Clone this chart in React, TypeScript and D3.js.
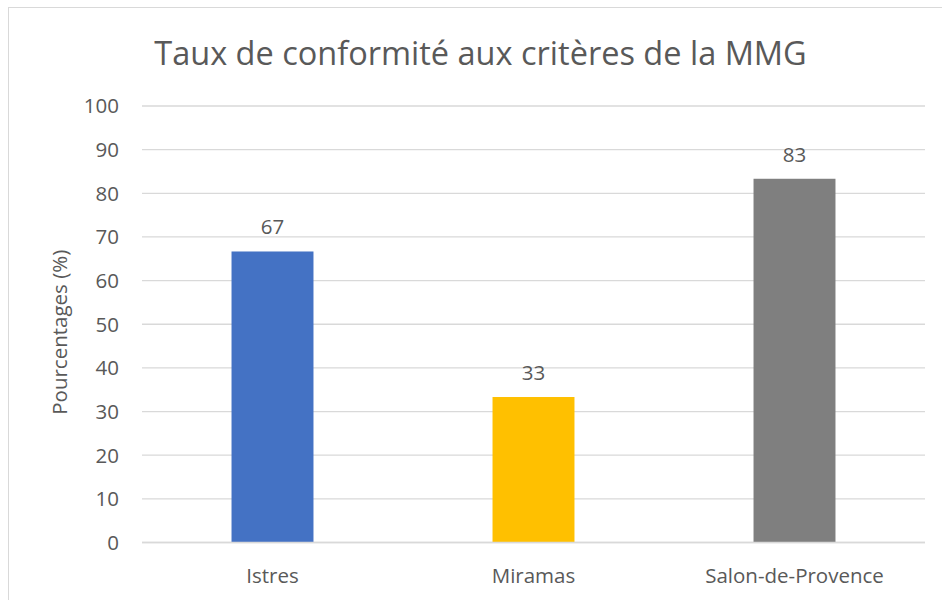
import React from "react";
import * as d3 from "d3";

const categories = ["Istres", "Miramas", "Salon-de-Provence"];
const values = [66.67, 33.33, 83.33];
const labels = ["67", "33", "83"];
const colors = ["#4472C4", "#FFC000", "#7F7F7F"];
const yTicks = [0, 10, 20, 30, 40, 50, 60, 70, 80, 90, 100];

export default function App() {
  const W = 942, H = 600;
  const left = 142, right = 925, top = 106, bottom = 542.5;
  const x = d3.scaleBand<string>().domain(categories).range([left, right]).paddingInner(0.686).paddingOuter(0.343);
  const y = d3.scaleLinear().domain([0, 100]).range([bottom, top]);
  const font = "'Open Sans', sans-serif";
  const txt = "#595959";
  const fs = 20.5;
  return (
    <svg width={W} height={H} style={{ position: "absolute", left: 0, top: 0 }} fontFamily={font}>
      <rect x={0} y={0} width={W} height={H} fill="#fff" />
      <rect x={8.5} y={7.5} width={W - 4} height={H} fill="#fff" stroke="#D9D9D9" strokeWidth={1} />
      <text x={480.5} y={65} textAnchor="middle" fontSize={32.5} fill={txt}>Taux de conformité aux critères de la MMG</text>
      {yTicks.map((t) => (
        <g key={t}>
          <line x1={left} x2={right} y1={y(t)} y2={y(t)} stroke="#D9D9D9" strokeWidth={1.3} />
          <text x={119} y={y(t)} dy="0.36em" textAnchor="end" fontSize={fs} fill={txt}>{t}</text>
        </g>
      ))}
      {categories.map((c, i) => (
        <g key={c}>
          <rect x={x(c)} y={y(values[i])} width={x.bandwidth()} height={y(0) - y(values[i])} fill={colors[i]} />
          <text x={x(c)! + x.bandwidth() / 2} y={y(values[i]) - 17} textAnchor="middle" fontSize={fs} fill={txt}>{labels[i]}</text>
          <text x={x(c)! + x.bandwidth() / 2} y={576} dy="0.36em" textAnchor="middle" fontSize={fs} fill={txt}>{c}</text>
        </g>
      ))}
      <line x1={left} x2={right} y1={y(0)} y2={y(0)} stroke="#D9D9D9" strokeWidth={1.5} />
      <text transform={`translate(60,${(top + bottom) / 2 + 8}) rotate(-90)`} textAnchor="middle" dy="0.36em" fontSize={fs} fill={txt}>Pourcentages (%)</text>
    </svg>
  );
}
